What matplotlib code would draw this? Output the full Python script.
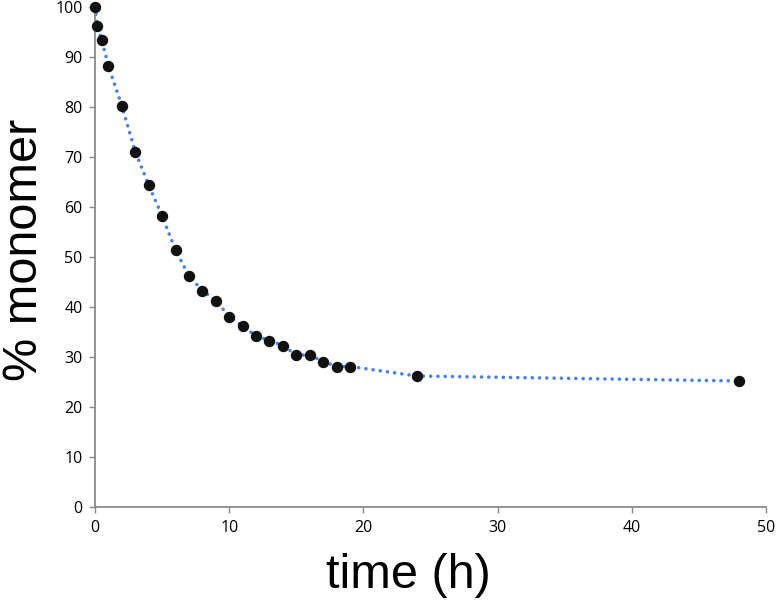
import matplotlib
matplotlib.use("Agg")
import matplotlib.pyplot as plt

time_h = [0, 0.17, 0.5, 1, 2, 3, 4, 5, 6, 7, 8, 9, 10, 11, 12, 13, 14, 15, 16, 17, 18, 19, 24, 48]
monomer = [100, 96.3, 93.4, 88.2, 80.2, 71.1, 64.4, 58.2, 51.4, 46.2, 43.3, 41.3, 38.1, 36.2, 34.2, 33.3, 32.3, 30.4, 30.4, 29.1, 28.1, 28.1, 26.2, 25.2]

xticks = [0, 10, 20, 30, 40, 50]
yticks = [0, 10, 20, 30, 40, 50, 60, 70, 80, 90, 100]

fig = plt.figure(figsize=(7.76, 6.07), dpi=100)
ax = fig.add_axes([95/776, 1 - 507/607, (766 - 95)/776, 500/607])

ax.plot(time_h, monomer, color="#4a80ea", lw=2.6, linestyle=(0, (0.01, 2.0)),
        dash_capstyle="round", zorder=2, clip_on=False)
ax.plot(time_h, monomer, linestyle="none", marker="o", ms=7.2, color="#111111",
        zorder=3, clip_on=False)

ax.set_xlim(0, 50)
ax.set_ylim(0, 100)
ax.set_xticks(xticks)
ax.set_yticks(yticks)
for s in ["top", "right"]:
    ax.spines[s].set_visible(False)
for s in ["left", "bottom"]:
    ax.spines[s].set_color("#8a8a8a")
    ax.spines[s].set_linewidth(1.3)
ax.tick_params(axis="both", direction="out", length=4, width=1, color="#8a8a8a",
               labelsize=11.5, pad=5)
for lab in ax.get_xticklabels() + ax.get_yticklabels():
    lab.set_fontfamily("Open Sans")

fig.text(408/776, 1 - 575/607, "time (h)", ha="center", va="center",
         fontsize=35, family="Liberation Sans")
fig.text(25/776, 1 - 250/607, "% monomer", ha="center", va="center",
         rotation=90, fontsize=35, family="Liberation Sans")

fig.savefig("out.png", dpi=100)
